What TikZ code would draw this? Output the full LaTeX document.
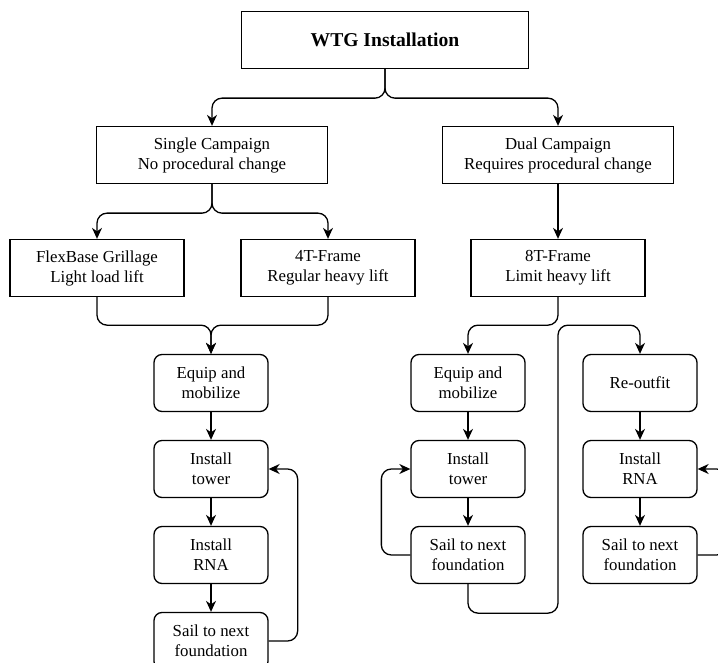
\documentclass[tikz,border=0pt]{standalone}
\usepackage{fontspec}
\setmainfont{Liberation Serif}
\usetikzlibrary{arrows.meta,calc,positioning}

\begin{document}
\begin{tikzpicture}[x=1pt,y=-1pt,
  box/.style={draw,line width=1.3pt,align=center,inner sep=0pt,minimum height=57pt,
    font=\fontsize{16.8}{20}\selectfont},
  task/.style={box,rounded corners=8pt,minimum width=114pt},
  link/.style={line width=1.3pt,rounded corners=10pt,
    -{Stealth[length=11pt,width=10pt,inset=3.5pt]}}]
  \useasboundingbox (0,0) rectangle (718,663);
  \clip (0,0) rectangle (718,663);
  % top levels
  \node[box,minimum width=287pt,font=\fontsize{19.6}{22}\selectfont\bfseries] (wtg) at (385,40) {WTG Installation};
  \node[box,minimum width=231pt] (single) at (212,155) {Single Campaign\\No procedural change};
  \node[box,minimum width=231pt] (dual) at (558,155) {Dual Campaign\\Requires procedural change};
  \node[box,minimum width=174pt] (flex) at (97,268) {FlexBase Grillage\\Light load lift};
  \node[box,minimum width=174pt] (fourT) at (328,268) {4T-Frame\\Regular heavy lift};
  \node[box,minimum width=174pt] (eightT) at (558,268) {8T-Frame\\Limit heavy lift};
  % single campaign steps
  \node[task] (equipA) at (211,383) {Equip and\\mobilize};
  \node[task] (towerA) at (211,469) {Install\\tower};
  \node[task] (rnaA) at (211,555) {Install\\RNA};
  \node[task] (sailA) at (211,641) {Sail to next\\foundation};
  % dual campaign steps
  \node[task] (equipB) at (468,383) {Equip and\\mobilize};
  \node[task] (towerB) at (468,469) {Install\\tower};
  \node[task] (sailB) at (468,555) {Sail to next\\foundation};
  \node[task] (reout) at (640,383) {Re-outfit};
  \node[task] (rnaC) at (640,469) {Install\\RNA};
  \node[task] (sailC) at (640,555) {Sail to next\\foundation};
  \coordinate (splitC) at ($(eightT.south)+(0,28)$);

  \draw[link] (wtg.south) -- ++(0,29) -| (single.north);
  \draw[link] (wtg.south) -- ++(0,29) -| (dual.north);
  \draw[link] (single.south) -- ++(0,29) -| (flex.north);
  \draw[link] (single.south) -- ++(0,29) -| (fourT.north);
  \draw[link] (dual.south) -- (eightT.north);
  \draw[link] (flex.south) -- ++(0,28) -| (equipA.north);
  \draw[link] (fourT.south) -- ++(0,28) -| (equipA.north);
  \draw[link] (equipA) -- (towerA);
  \draw[link] (towerA) -- (rnaA);
  \draw[link] (rnaA) -- (sailA);
  \draw[link] (sailA.east) -- ++(29,0) |- (towerA.east);
  \draw[link] (eightT.south) -- (splitC) -| (equipB.north);
  \draw[link] (equipB) -- (towerB);
  \draw[link] (towerB) -- (sailB);
  \draw[link] (sailB.west) -- ++(-29,0) |- (towerB.west);
  \draw[link] (sailB.south) -- ++(0,29) -| (splitC) -| (reout.north);
  \draw[link] (reout) -- (rnaC);
  \draw[link] (rnaC) -- (sailC);
  \draw[link] (sailC.east) -- ++(29,0) |- (rnaC.east);
\end{tikzpicture}
\end{document}
